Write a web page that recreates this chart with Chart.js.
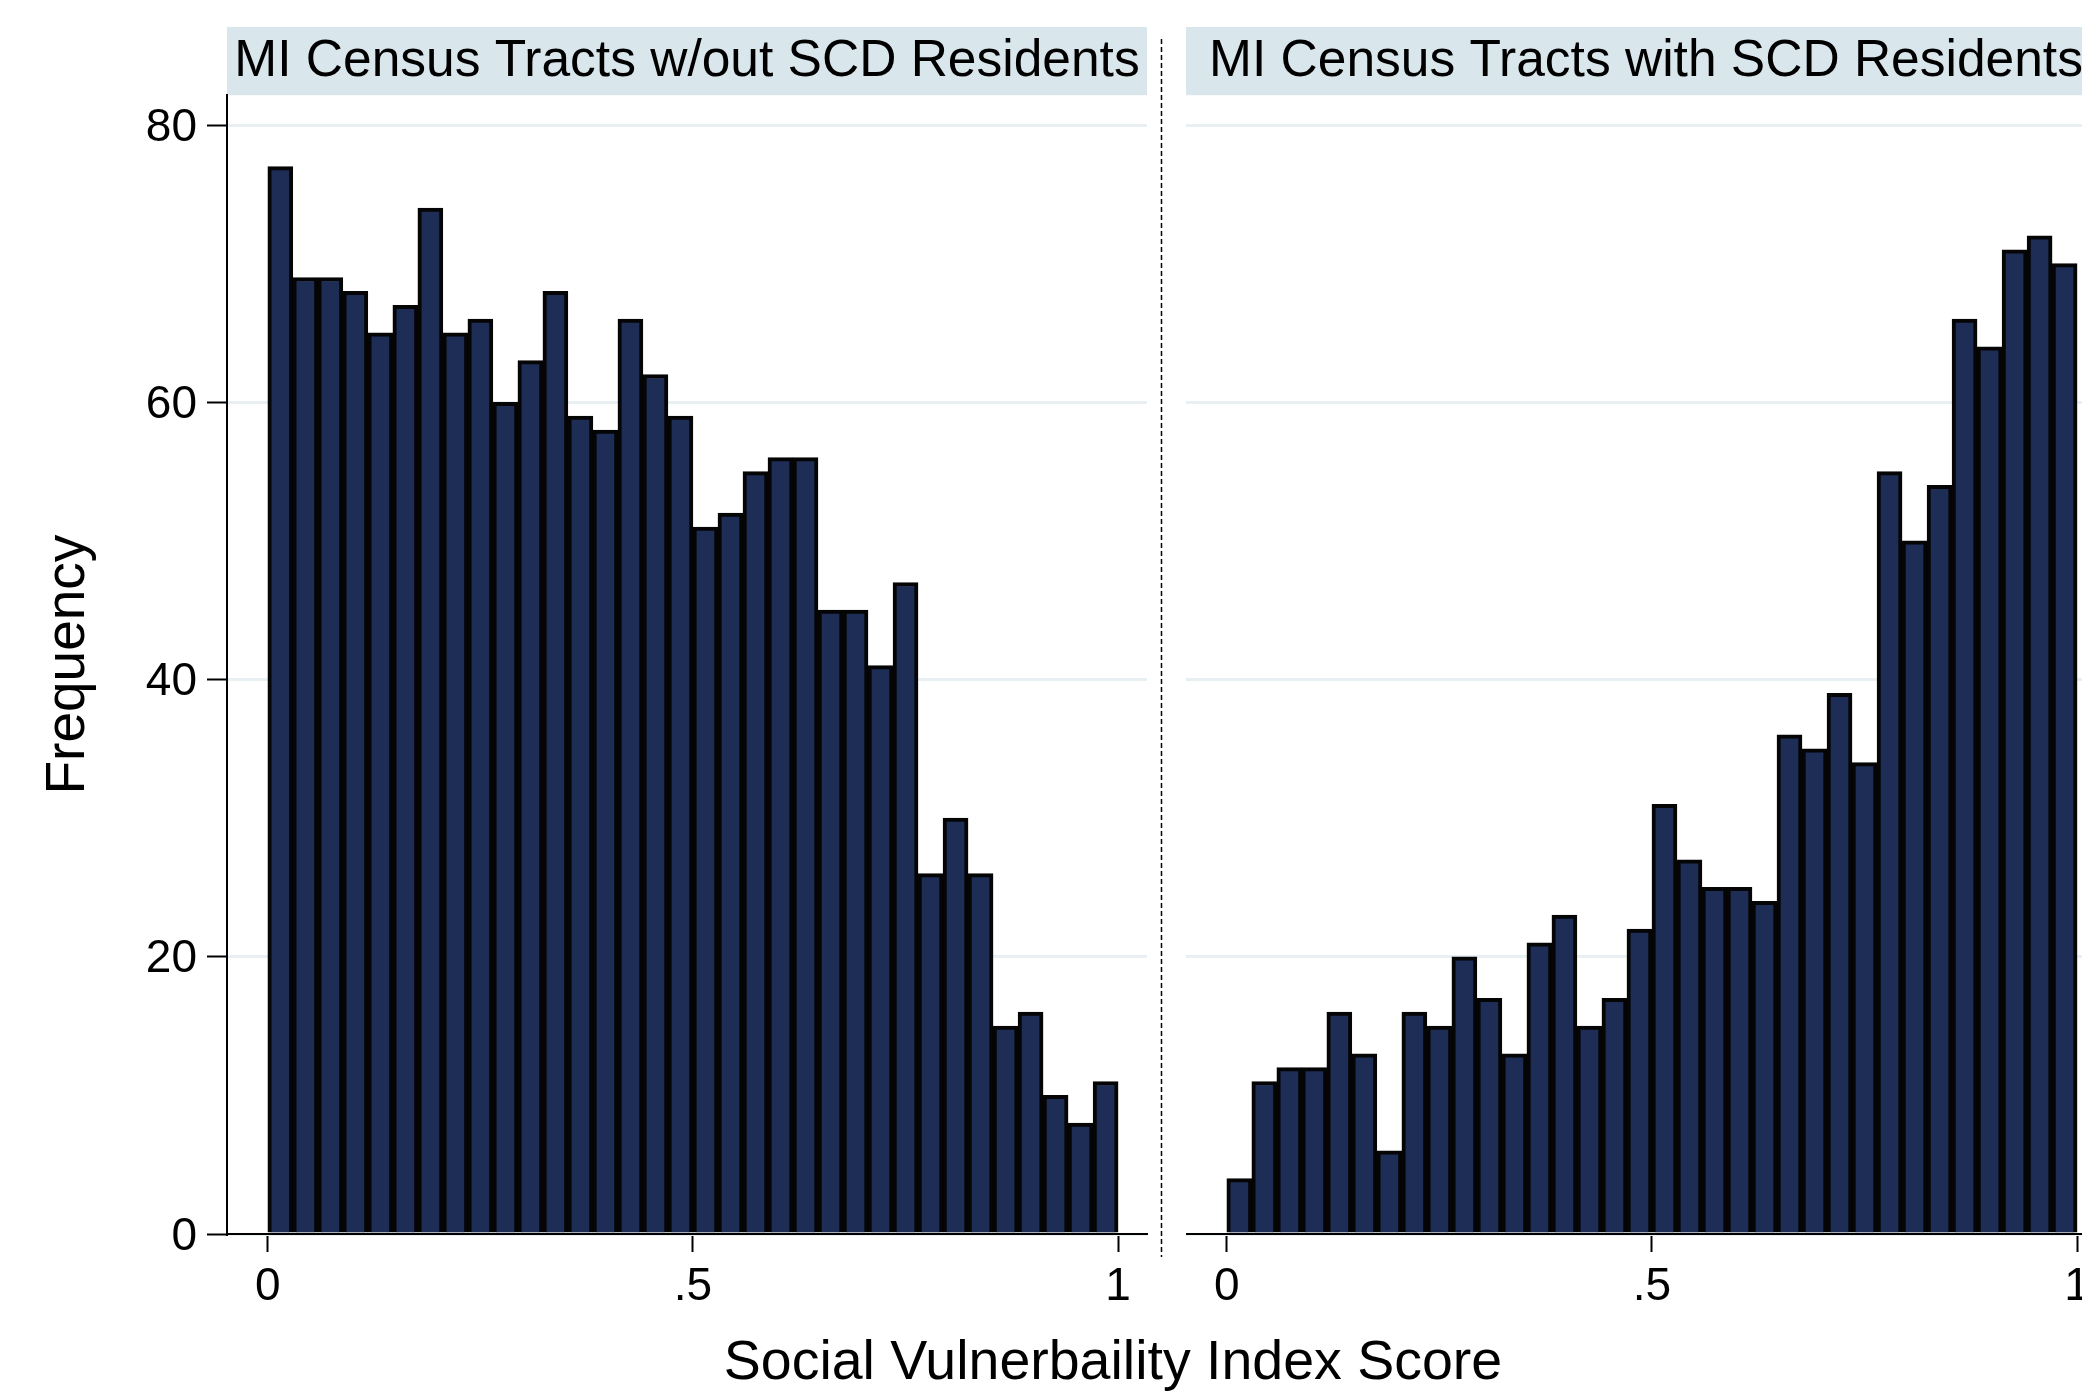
<!DOCTYPE html>
<html>
<head>
<meta charset="utf-8">
<script src="https://cdn.jsdelivr.net/npm/chart.js@4.4.1/dist/chart.umd.min.js"></script>
<style>
  html, body { margin: 0; padding: 0; background: #fff; overflow: hidden; }
  #wrap { position: relative; width: 2082px; height: 1394px; overflow: hidden; background: #fff; }
  #leftChart { position: absolute; left: 0; top: 0; }
  #rightChart { position: absolute; left: 1186px; top: 0; }
  #xTitle {
    position: absolute; left: 0; top: 1333px; width: 2226px;
    text-align: center; white-space: nowrap; color: #000;
    font: 55.5px/55px "Liberation Sans", Arial, Helvetica, sans-serif;
  }
</style>
</head>
<body>
<div id="wrap">
  <canvas id="leftChart" width="1170" height="1394"></canvas>
  <canvas id="rightChart" width="920" height="1394"></canvas>
  <div id="xTitle">Social Vulnerbaility Index Score</div>
</div>
<script>
// histogram data (34 bins over 0..1)
const panelTitles = ['MI Census Tracts w/out SCD Residents', 'MI Census Tracts with SCD Residents'];
const nBins = 34;
const binMids = Array.from({ length: nBins }, (_, i) => (i + 0.5) / nBins);

const freqWithout = [77, 69, 69, 68, 65, 67, 74, 65, 66, 60, 63, 68, 59, 58, 66, 62, 59,
                     51, 52, 55, 56, 56, 45, 45, 41, 47, 26, 30, 26, 15, 16, 10, 8, 11];
const freqWith = [4, 11, 12, 12, 16, 13, 6, 16, 15, 20, 17, 13, 21, 23, 15, 17, 22,
                  31, 27, 25, 25, 24, 36, 35, 39, 34, 55, 50, 54, 66, 64, 71, 72, 70];

const xTickValues = [0, 0.5, 1];
const xTickLabels = ['0', '.5', '1'];
const yTickValues = [0, 20, 40, 60, 80];
const yTitle = 'Frequency';

const FONT = '"Liberation Sans", Arial, Helvetica, sans-serif';

// light blue band behind each panel title
const bandPlugin = {
  id: 'band',
  beforeDraw(chart) {
    const t = chart.titleBlock;
    const ctx = chart.ctx;
    ctx.save();
    ctx.fillStyle = '#d9e6ec';
    ctx.fillRect(t.left, t.top, t.width, t.height);
    ctx.restore();
  }
};

// dashed separator between the two panels
const separatorPlugin = {
  id: 'separator',
  afterDraw(chart) {
    const ctx = chart.ctx;
    ctx.save();
    ctx.strokeStyle = '#000';
    ctx.lineWidth = 1.5;
    ctx.setLineDash([5, 3]);
    ctx.beginPath();
    ctx.moveTo(1161.5, 39);
    ctx.lineTo(1161.5, 1257);
    ctx.stroke();
    ctx.restore();
  }
};

function makeHist(id, title, freqs, showY) {
  const plugins = [bandPlugin];
  if (showY) plugins.push(separatorPlugin);

  return new Chart(document.getElementById(id), {
    type: 'bar',
    data: {
      datasets: [{
        data: binMids.map((x, i) => ({ x: x, y: freqs[i] })),
        backgroundColor: '#1e2d56',
        borderColor: '#050505',
        borderWidth: 4,
        barPercentage: 1,
        categoryPercentage: 1,
      }]
    },
    options: {
      responsive: false,
      animation: false,
      layout: { padding: { top: 27, left: 0, right: showY ? 23 : 0, bottom: 0 } },
      plugins: {
        legend: { display: false },
        tooltip: { enabled: false },
        title: {
          display: true,
          text: title,
          fullSize: false,
          color: '#000',
          font: { family: FONT, size: 51.5, weight: 'normal', lineHeight: 1.2 },
          padding: { top: 3.5, bottom: 2.9 },
        },
      },
      scales: {
        x: {
          type: 'linear',
          offset: false,
          min: -0.048,
          max: 1.034,
          afterBuildTicks: s => { s.ticks = xTickValues.map(v => ({ value: v })); },
          afterFit: s => { s.height = 160; },
          grid: { offset: false, drawOnChartArea: false, drawTicks: true, tickLength: 18, tickColor: '#000', tickWidth: 2 },
          border: { display: true, color: '#000', width: 2, z: 1 },
          ticks: {
            color: '#000',
            padding: 8,
            maxRotation: 0,
            autoSkip: false,
            font: { family: FONT, size: 46 },
            callback: (v, i) => xTickLabels[i],
          },
        },
        y: {
          min: 0,
          max: 82.15,
          afterBuildTicks: s => { s.ticks = yTickValues.map(v => ({ value: v })); },
          afterFit: s => { s.width = showY ? 227 : 0; },
          grid: { color: '#e8f0f3', lineWidth: 3, drawTicks: showY, tickLength: 20, tickColor: '#000', tickWidth: 2 },
          border: { display: showY, color: '#000', width: 2 },
          ticks: {
            display: showY,
            color: '#000',
            padding: 10,
            labelOffset: 3,
            font: { family: FONT, size: 46 },
          },
          title: {
            display: showY,
            text: yTitle,
            color: '#000',
            font: { family: FONT, size: 55 },
            padding: { top: 36, bottom: 0 },
          },
        },
      },
    },
    plugins: plugins,
  });
}

makeHist('leftChart', panelTitles[0], freqWithout, true);
makeHist('rightChart', panelTitles[1], freqWith, false);
</script>
</body>
</html>
